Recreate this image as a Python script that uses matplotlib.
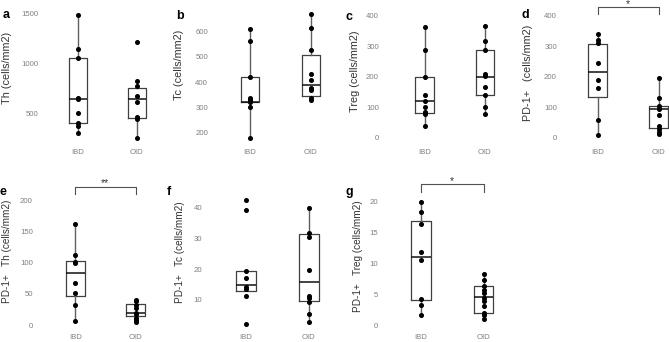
import matplotlib
matplotlib.use("Agg")
import matplotlib.pyplot as plt
import matplotlib.transforms as mtransforms

plt.rcParams["font.family"] = ["Liberation Sans", "DejaVu Sans"]

groups = ["IBD", "OID"]

# raw points per panel (IBD, OID)
a_ibd = [1490, 1145, 1055, 655, 640, 505, 400, 375, 300]
a_oid = [1220, 828, 775, 674, 614, 460, 445, 252]
b_ibd = [611, 565, 419, 338, 330, 321, 300, 177]
b_oid = [672, 616, 529, 433, 407, 375, 367, 335, 327]
c_ibd = [362, 289, 198, 141, 121, 101, 84, 77, 39]
c_oid = [365, 318, 289, 209, 203, 166, 141, 100, 80]
d_ibd = [339, 320, 310, 246, 190, 163, 58, 9]
d_oid = [197, 131, 105, 96, 75, 39, 28, 21, 13]
e_ibd = [162, 112, 102, 100, 68, 52, 32, 6.5]
e_oid = [41, 38, 33, 28, 20, 18, 12, 7.5, 5.4]
f_ibd = [42.4, 39.1, 19.4, 17.1, 14.3, 13.7, 11.3, 2.2]
f_oid = [40, 31.9, 30.3, 19.9, 11.2, 10.5, 9.5, 5.6, 3.0]
g_ibd = [19.9, 18.3, 16.4, 11.8, 10.5, 4.15, 3.3, 1.7]
g_oid = [8.2, 7.3, 6.3, 5.7, 5.2, 4.3, 3.9, 3.0, 2.0, 1.7, 0.9]

# box stats: (whisker low, q1, median, q3, whisker high)
a_box = [(300, 399, 641, 1056, 1490), (252, 456, 647, 751, 828)]
b_box = [(177, 319, 321, 419, 611), (327, 343, 390, 506, 672)]
c_box = [(39, 81, 121, 198, 362), (80, 141, 198, 289, 365)]
d_box = [(9, 135, 217, 308, 339), (13, 34, 94, 105, 197)]
e_box = [(6.5, 47, 84, 103, 162), (5.4, 14, 20, 34, 41)]
f_box = [(12.9, 12.9, 14.8, 19.4, 19.4), (3.0, 9.6, 15.7, 31.3, 40)]
g_box = [(1.7, 4.0, 11.05, 16.8, 19.9), (0.9, 2.0, 4.5, 6.25, 8.2)]

W, H = 669, 342

panels = [
    dict(letter="a", pts=(a_ibd, a_oid), box=a_box, ylabel="Th (cells/mm2)", fs=7.8,
         yticks=[500, 1000, 1500], ylim=(181, 1559), cx=(78, 137), rows=(8, 145),
         tr=38, lx=7, ly=68, lp=(3, 15), sig=None),
    dict(letter="b", pts=(b_ibd, b_oid), box=b_box, ylabel="Tc (cells/mm2)", fs=7.8,
         yticks=[200, 300, 400, 500, 600], ylim=(149, 695), cx=(250, 311), rows=(8, 145),
         tr=208, lx=179, ly=65, lp=(176, 16), sig=None),
    dict(letter="c", pts=(c_ibd, c_oid), box=c_box, ylabel="Treg (cells/mm2)", fs=7.8,
         yticks=[0, 100, 200, 300, 400], ylim=(-23, 425), cx=(424.5, 485), rows=(8, 145),
         tr=379, lx=355, ly=71, lp=(345, 17), sig=None),
    dict(letter="d", pts=(d_ibd, d_oid), box=d_box, ylabel="PD-1+   (cells/mm2)", fs=7.8,
         yticks=[0, 100, 200, 300, 400], ylim=(-23, 425), cx=(597.5, 658.5), rows=(8, 145),
         tr=557, lx=528, ly=73, lp=(522, 15), sig=("*", 7.3, 14)),
    dict(letter="e", pts=(e_ibd, e_oid), box=e_box, ylabel="PD-1+   Th (cells/mm2)", fs=7.2,
         yticks=[0, 50, 100, 150, 200], ylim=(-8, 235), cx=(75.3, 135.5), rows=(179, 330),
         tr=33, lx=7.5, ly=251, lp=(0, 192), sig=("**", 186.7, 194.3)),
    dict(letter="f", pts=(f_ibd, f_oid), box=f_box, ylabel="PD-1+   Tc (cells/mm2)", fs=7.2,
         yticks=[10, 20, 30, 40], ylim=(0.25, 49.3), cx=(246, 309), rows=(179, 330),
         tr=202, lx=180, ly=252, lp=(167, 192), sig=None),
    dict(letter="g", pts=(g_ibd, g_oid), box=g_box, ylabel="PD-1+   Treg (cells/mm2)", fs=7.2,
         yticks=[0, 5, 10, 15, 20], ylim=(-0.8, 23.6), cx=(421, 483.7), rows=(179, 330),
         tr=378, lx=358, ly=256, lp=(346, 192), sig=("*", 184.3, 192)),
]

fig = plt.figure(figsize=(W / 100, H / 100), dpi=100)
tick_col = "#808080"
line_col = "#404040"

for p in panels:
    x1, x2 = p["cx"]
    sp = x2 - x1
    left = x1 - 0.55 * sp
    width = 2.1 * sp
    top, bot = p["rows"]
    ax = fig.add_axes([left / W, 1 - bot / H, width / W, (bot - top) / H])
    ax.set_xlim(0.45, 2.55)
    ax.set_ylim(*p["ylim"])

    stats = []
    for g, (lo, q1, med, q3, hi) in zip(groups, p["box"]):
        stats.append(dict(label=g, whislo=lo, q1=q1, med=med, q3=q3, whishi=hi, fliers=[]))
    ax.bxp(stats, positions=[1, 2], widths=0.31, showfliers=False, showcaps=False,
           boxprops=dict(color=line_col, linewidth=0.9),
           whiskerprops=dict(color="#606060", linewidth=1.0),
           medianprops=dict(color="#111111", linewidth=1.1))
    for i, vals in enumerate(p["pts"]):
        ax.plot([i + 1] * len(vals), vals, "o", color="black", markersize=2.6, zorder=5)

    for s in ax.spines.values():
        s.set_visible(False)
    ax.set_xticks([1, 2], groups)
    ax.set_yticks(p["yticks"])
    ax.tick_params(length=0, labelsize=5.6, labelcolor=tick_col)
    pad_pt = (left - p["tr"]) * 72 / 100
    ax.tick_params(axis="y", pad=pad_pt)
    ax.tick_params(axis="x", pad=3)

    fig.text(p["lx"] / W, 1 - p["ly"] / H, p["ylabel"], rotation=90, ha="center",
             va="center", fontsize=p["fs"], color="#333333")
    fig.text(p["lp"][0] / W, 1 - p["lp"][1] / H, p["letter"], ha="left", va="center",
             fontsize=9, fontweight="bold")

    if p["sig"]:
        star, ly_px, ty_px = p["sig"]
        trans = mtransforms.blended_transform_factory(ax.transData, fig.transFigure)
        yl = 1 - ly_px / H
        yt = 1 - ty_px / H
        ax.plot([1, 1, 2, 2], [yt, yl, yl, yt], color="#505050", linewidth=0.8,
                transform=trans, clip_on=False)
        ax.text(1.5, yl - 0.004, star, ha="center", va="bottom", fontsize=7.5,
                color="#333333", transform=trans)

fig.savefig("out.png", dpi=100)
